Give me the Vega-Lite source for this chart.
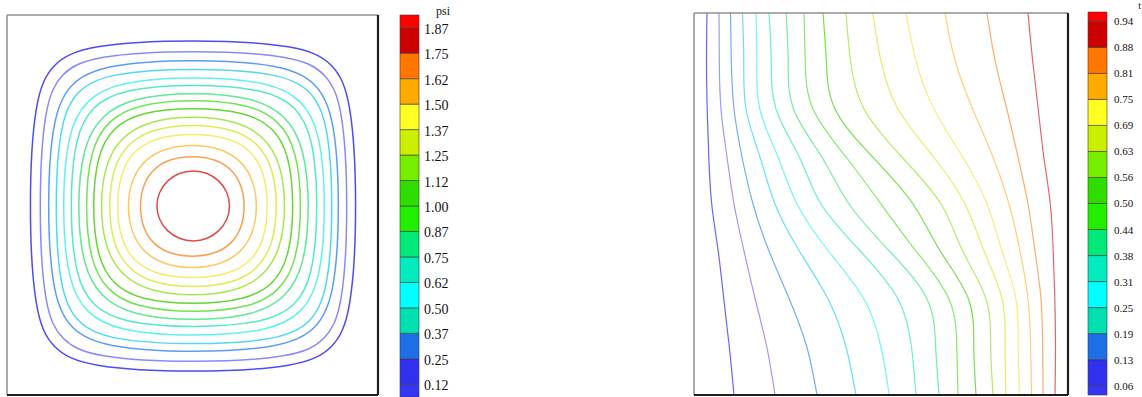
{
"$schema":"https://vega.github.io/schema/vega-lite/v6.json",
"background":"white",
"padding":{"left":5,"top":0,"right":0,"bottom":0},
"config":{"view":{"stroke":null}},
"bounds":"flush",
"spacing":22,
"resolve":{"scale":{"color":"independent","x":"independent","y":"independent"}},
"datasets":{
"psi":[
{"k":1,"o":0,"x":350.5,"y":189},{"k":1,"o":1,"x":344.7,"y":298.1},{"k":1,"o":2,"x":327,"y":332.1},{"k":1,"o":3,"x":293.4,"y":350.2},{"k":1,"o":4,"x":186,"y":356},{"k":1,"o":5,"x":78.6,"y":350.2},{"k":1,"o":6,"x":45,"y":332.1},{"k":1,"o":7,"x":27.3,"y":298.1},{"k":1,"o":8,"x":21.5,"y":189},{"k":1,"o":9,"x":27.3,"y":79.9},{"k":1,"o":10,"x":45,"y":45.9},{"k":1,"o":11,"x":78.6,"y":27.8},{"k":1,"o":12,"x":186,"y":22},{"k":1,"o":13,"x":293.4,"y":27.8},{"k":1,"o":14,"x":327,"y":45.9},{"k":1,"o":15,"x":344.7,"y":79.9},
{"k":2,"o":0,"x":341.5,"y":188.5},{"k":2,"o":1,"x":336.1,"y":290.8},{"k":2,"o":2,"x":319.3,"y":322.8},{"k":2,"o":3,"x":287.7,"y":339.7},{"k":2,"o":4,"x":186.5,"y":345.2},{"k":2,"o":5,"x":85.3,"y":339.7},{"k":2,"o":6,"x":53.7,"y":322.8},{"k":2,"o":7,"x":36.9,"y":290.8},{"k":2,"o":8,"x":31.5,"y":188.5},{"k":2,"o":9,"x":36.9,"y":86.2},{"k":2,"o":10,"x":53.7,"y":54.2},{"k":2,"o":11,"x":85.3,"y":37.3},{"k":2,"o":12,"x":186.5,"y":31.8},{"k":2,"o":13,"x":287.7,"y":37.3},{"k":2,"o":14,"x":319.3,"y":54.2},{"k":2,"o":15,"x":336.1,"y":86.2},
{"k":3,"o":0,"x":333.2,"y":189},{"k":3,"o":1,"x":327.5,"y":280.1},{"k":3,"o":2,"x":309.9,"y":312.8},{"k":3,"o":3,"x":277.3,"y":330.5},{"k":3,"o":4,"x":186.5,"y":336.2},{"k":3,"o":5,"x":95.7,"y":330.5},{"k":3,"o":6,"x":63.1,"y":312.8},{"k":3,"o":7,"x":45.5,"y":280.1},{"k":3,"o":8,"x":39.8,"y":189},{"k":3,"o":9,"x":45.5,"y":97.9},{"k":3,"o":10,"x":63.1,"y":65.2},{"k":3,"o":11,"x":95.7,"y":47.5},{"k":3,"o":12,"x":186.5,"y":41.8},{"k":3,"o":13,"x":277.3,"y":47.5},{"k":3,"o":14,"x":309.9,"y":65.2},{"k":3,"o":15,"x":327.5,"y":97.9},
{"k":4,"o":0,"x":326.5,"y":188.5},{"k":4,"o":1,"x":321.1,"y":274.5},{"k":4,"o":2,"x":304.3,"y":305.3},{"k":4,"o":3,"x":273.4,"y":322},{"k":4,"o":4,"x":187,"y":327.4},{"k":4,"o":5,"x":100.6,"y":322},{"k":4,"o":6,"x":69.7,"y":305.3},{"k":4,"o":7,"x":52.9,"y":274.5},{"k":4,"o":8,"x":47.5,"y":188.5},{"k":4,"o":9,"x":52.9,"y":102.5},{"k":4,"o":10,"x":69.7,"y":71.7},{"k":4,"o":11,"x":100.6,"y":55},{"k":4,"o":12,"x":187,"y":49.6},{"k":4,"o":13,"x":273.4,"y":55},{"k":4,"o":14,"x":304.3,"y":71.7},{"k":4,"o":15,"x":321.1,"y":102.5},
{"k":5,"o":0,"x":319.2,"y":188.5},{"k":5,"o":1,"x":313.4,"y":263.9},{"k":5,"o":2,"x":295.4,"y":295.4},{"k":5,"o":3,"x":263.4,"y":313.2},{"k":5,"o":4,"x":187,"y":318.9},{"k":5,"o":5,"x":110.6,"y":313.2},{"k":5,"o":6,"x":78.6,"y":295.4},{"k":5,"o":7,"x":60.6,"y":263.9},{"k":5,"o":8,"x":54.8,"y":188.5},{"k":5,"o":9,"x":60.6,"y":113.1},{"k":5,"o":10,"x":78.6,"y":81.6},{"k":5,"o":11,"x":110.6,"y":63.8},{"k":5,"o":12,"x":187,"y":58.1},{"k":5,"o":13,"x":263.4,"y":63.8},{"k":5,"o":14,"x":295.4,"y":81.6},{"k":5,"o":15,"x":313.4,"y":113.1},
{"k":6,"o":0,"x":311.5,"y":189},{"k":6,"o":1,"x":306,"y":259.6},{"k":6,"o":2,"x":289.1,"y":289.2},{"k":6,"o":3,"x":259,"y":305.8},{"k":6,"o":4,"x":187,"y":311.2},{"k":6,"o":5,"x":115,"y":305.8},{"k":6,"o":6,"x":84.9,"y":289.2},{"k":6,"o":7,"x":68,"y":259.6},{"k":6,"o":8,"x":62.5,"y":189},{"k":6,"o":9,"x":68,"y":118.4},{"k":6,"o":10,"x":84.9,"y":88.8},{"k":6,"o":11,"x":115,"y":72.2},{"k":6,"o":12,"x":187,"y":66.8},{"k":6,"o":13,"x":259,"y":72.2},{"k":6,"o":14,"x":289.1,"y":88.8},{"k":6,"o":15,"x":306,"y":118.4},
{"k":7,"o":0,"x":303.2,"y":188.5},{"k":7,"o":1,"x":297.2,"y":249},{"k":7,"o":2,"x":279.2,"y":279.7},{"k":7,"o":3,"x":248,"y":297.4},{"k":7,"o":4,"x":186.5,"y":303.3},{"k":7,"o":5,"x":125,"y":297.4},{"k":7,"o":6,"x":93.8,"y":279.7},{"k":7,"o":7,"x":75.8,"y":249},{"k":7,"o":8,"x":69.8,"y":188.5},{"k":7,"o":9,"x":75.8,"y":128},{"k":7,"o":10,"x":93.8,"y":97.3},{"k":7,"o":11,"x":125,"y":79.6},{"k":7,"o":12,"x":186.5,"y":73.7},{"k":7,"o":13,"x":248,"y":79.6},{"k":7,"o":14,"x":279.2,"y":97.3},{"k":7,"o":15,"x":297.2,"y":128},
{"k":8,"o":0,"x":295.2,"y":189},{"k":8,"o":1,"x":289.7,"y":245.5},{"k":8,"o":2,"x":272.8,"y":274.1},{"k":8,"o":3,"x":243.8,"y":290.7},{"k":8,"o":4,"x":186.5,"y":296.2},{"k":8,"o":5,"x":129.2,"y":290.7},{"k":8,"o":6,"x":100.2,"y":274.1},{"k":8,"o":7,"x":83.3,"y":245.5},{"k":8,"o":8,"x":77.8,"y":189},{"k":8,"o":9,"x":83.3,"y":132.5},{"k":8,"o":10,"x":100.2,"y":103.9},{"k":8,"o":11,"x":129.2,"y":87.3},{"k":8,"o":12,"x":186.5,"y":81.8},{"k":8,"o":13,"x":243.8,"y":87.3},{"k":8,"o":14,"x":272.8,"y":103.9},{"k":8,"o":15,"x":289.7,"y":132.5},
{"k":9,"o":0,"x":287.4,"y":189},{"k":9,"o":1,"x":282.2,"y":241.2},{"k":9,"o":2,"x":266.6,"y":267.6},{"k":9,"o":3,"x":239.5,"y":283},{"k":9,"o":4,"x":186.2,"y":288},{"k":9,"o":5,"x":132.9,"y":283},{"k":9,"o":6,"x":105.8,"y":267.6},{"k":9,"o":7,"x":90.2,"y":241.2},{"k":9,"o":8,"x":85,"y":189},{"k":9,"o":9,"x":90.2,"y":136.8},{"k":9,"o":10,"x":105.8,"y":110.4},{"k":9,"o":11,"x":132.9,"y":95},{"k":9,"o":12,"x":186.2,"y":90},{"k":9,"o":13,"x":239.5,"y":95},{"k":9,"o":14,"x":266.6,"y":110.4},{"k":9,"o":15,"x":282.2,"y":136.8},
{"k":10,"o":0,"x":279.3,"y":189},{"k":10,"o":1,"x":273.8,"y":232.3},{"k":10,"o":2,"x":257.5,"y":258.4},{"k":10,"o":3,"x":230.6,"y":274.3},{"k":10,"o":4,"x":186,"y":279.6},{"k":10,"o":5,"x":141.4,"y":274.3},{"k":10,"o":6,"x":114.5,"y":258.4},{"k":10,"o":7,"x":98.2,"y":232.3},{"k":10,"o":8,"x":92.7,"y":189},{"k":10,"o":9,"x":98.2,"y":145.7},{"k":10,"o":10,"x":114.5,"y":119.6},{"k":10,"o":11,"x":141.4,"y":103.7},{"k":10,"o":12,"x":186,"y":98.4},{"k":10,"o":13,"x":230.6,"y":103.7},{"k":10,"o":14,"x":257.5,"y":119.6},{"k":10,"o":15,"x":273.8,"y":145.7},
{"k":11,"o":0,"x":270.9,"y":189},{"k":11,"o":1,"x":265.9,"y":228.3},{"k":11,"o":2,"x":251,"y":252},{"k":11,"o":3,"x":226.6,"y":266.4},{"k":11,"o":4,"x":186,"y":271.2},{"k":11,"o":5,"x":145.4,"y":266.4},{"k":11,"o":6,"x":121,"y":252},{"k":11,"o":7,"x":106.1,"y":228.3},{"k":11,"o":8,"x":101.1,"y":189},{"k":11,"o":9,"x":106.1,"y":149.7},{"k":11,"o":10,"x":121,"y":126},{"k":11,"o":11,"x":145.4,"y":111.6},{"k":11,"o":12,"x":186,"y":106.8},{"k":11,"o":13,"x":226.6,"y":111.6},{"k":11,"o":14,"x":251,"y":126},{"k":11,"o":15,"x":265.9,"y":149.7},
{"k":12,"o":0,"x":261.7,"y":189},{"k":12,"o":1,"x":257.2,"y":223.9},{"k":12,"o":2,"x":243.9,"y":244.9},{"k":12,"o":3,"x":221.9,"y":257.7},{"k":12,"o":4,"x":185.5,"y":262},{"k":12,"o":5,"x":149.1,"y":257.7},{"k":12,"o":6,"x":127.1,"y":244.9},{"k":12,"o":7,"x":113.8,"y":223.9},{"k":12,"o":8,"x":109.3,"y":189},{"k":12,"o":9,"x":113.8,"y":154.1},{"k":12,"o":10,"x":127.1,"y":133.1},{"k":12,"o":11,"x":149.1,"y":120.3},{"k":12,"o":12,"x":185.5,"y":116},{"k":12,"o":13,"x":221.9,"y":120.3},{"k":12,"o":14,"x":243.9,"y":133.1},{"k":12,"o":15,"x":257.2,"y":154.1},
{"k":13,"o":0,"x":250.8,"y":188.5},{"k":13,"o":1,"x":246.4,"y":215.6},{"k":13,"o":2,"x":233.8,"y":234.8},{"k":13,"o":3,"x":213.8,"y":246.8},{"k":13,"o":4,"x":185.4,"y":251},{"k":13,"o":5,"x":157,"y":246.8},{"k":13,"o":6,"x":137,"y":234.8},{"k":13,"o":7,"x":124.4,"y":215.6},{"k":13,"o":8,"x":120,"y":188.5},{"k":13,"o":9,"x":124.4,"y":161.4},{"k":13,"o":10,"x":137,"y":142.2},{"k":13,"o":11,"x":157,"y":130.2},{"k":13,"o":12,"x":185.4,"y":126},{"k":13,"o":13,"x":213.8,"y":130.2},{"k":13,"o":14,"x":233.8,"y":142.2},{"k":13,"o":15,"x":246.4,"y":161.4},
{"k":14,"o":0,"x":238.3,"y":188.6},{"k":14,"o":1,"x":234.7,"y":210.7},{"k":14,"o":2,"x":224.5,"y":226.3},{"k":14,"o":3,"x":208.3,"y":236.1},{"k":14,"o":4,"x":185.3,"y":239.5},{"k":14,"o":5,"x":162.3,"y":236.1},{"k":14,"o":6,"x":146.1,"y":226.3},{"k":14,"o":7,"x":135.9,"y":210.7},{"k":14,"o":8,"x":132.3,"y":188.6},{"k":14,"o":9,"x":135.9,"y":166.5},{"k":14,"o":10,"x":146.1,"y":150.9},{"k":14,"o":11,"x":162.3,"y":141.1},{"k":14,"o":12,"x":185.3,"y":137.7},{"k":14,"o":13,"x":208.3,"y":141.1},{"k":14,"o":14,"x":224.5,"y":150.9},{"k":14,"o":15,"x":234.7,"y":166.5},
{"k":15,"o":0,"x":223.4,"y":189.1},{"k":15,"o":1,"x":220.6,"y":202.8},{"k":15,"o":2,"x":212.5,"y":214.5},{"k":15,"o":3,"x":200.4,"y":222.3},{"k":15,"o":4,"x":186.2,"y":225},{"k":15,"o":5,"x":172,"y":222.3},{"k":15,"o":6,"x":159.9,"y":214.5},{"k":15,"o":7,"x":151.8,"y":202.8},{"k":15,"o":8,"x":149,"y":189.1},{"k":15,"o":9,"x":151.8,"y":175.4},{"k":15,"o":10,"x":159.9,"y":163.7},{"k":15,"o":11,"x":172,"y":155.9},{"k":15,"o":12,"x":186.2,"y":153.2},{"k":15,"o":13,"x":200.4,"y":155.9},{"k":15,"o":14,"x":212.5,"y":163.7},{"k":15,"o":15,"x":220.6,"y":175.4}
],
"temp":[
{"k":1,"y":382,"x":13},{"k":1,"y":334,"x":12.5},{"k":1,"y":286,"x":13.2},{"k":1,"y":238,"x":14.8},{"k":1,"y":191,"x":17.7},{"k":1,"y":144,"x":24.2},{"k":1,"y":96,"x":29.8},{"k":1,"y":48,"x":35.3},{"k":1,"y":0,"x":40},
{"k":2,"y":382,"x":25},{"k":2,"y":334,"x":25.3},{"k":2,"y":286,"x":27},{"k":2,"y":238,"x":33},{"k":2,"y":191,"x":40},{"k":2,"y":144,"x":50},{"k":2,"y":96,"x":61.2},{"k":2,"y":48,"x":72.8},{"k":2,"y":0,"x":81},
{"k":3,"y":382,"x":36.5},{"k":3,"y":334,"x":37.3},{"k":3,"y":286,"x":40},{"k":3,"y":238,"x":48},{"k":3,"y":191,"x":59},{"k":3,"y":144,"x":75},{"k":3,"y":96,"x":95.3},{"k":3,"y":48,"x":112.8},{"k":3,"y":0,"x":123},
{"k":4,"y":382,"x":48.5},{"k":4,"y":334,"x":49.8},{"k":4,"y":286,"x":52},{"k":4,"y":238,"x":66},{"k":4,"y":191,"x":81},{"k":4,"y":144,"x":105.3},{"k":4,"y":96,"x":134},{"k":4,"y":48,"x":152},{"k":4,"y":0,"x":162},
{"k":5,"y":382,"x":62},{"k":5,"y":334,"x":62.8},{"k":5,"y":286,"x":65.8},{"k":5,"y":238,"x":84},{"k":5,"y":191,"x":103},{"k":5,"y":144,"x":134.5},{"k":5,"y":96,"x":170},{"k":5,"y":48,"x":187},{"k":5,"y":0,"x":195.3},
{"k":6,"y":382,"x":75},{"k":6,"y":334,"x":77.3},{"k":6,"y":286,"x":82},{"k":6,"y":238,"x":105.3},{"k":6,"y":191,"x":127},{"k":6,"y":144,"x":166.2},{"k":6,"y":96,"x":204},{"k":6,"y":48,"x":217.5},{"k":6,"y":0,"x":222},
{"k":7,"y":382,"x":92},{"k":7,"y":334,"x":94.2},{"k":7,"y":286,"x":99.5},{"k":7,"y":238,"x":127.8},{"k":7,"y":191,"x":155},{"k":7,"y":144,"x":195.3},{"k":7,"y":96,"x":233},{"k":7,"y":48,"x":241.7},{"k":7,"y":0,"x":245},
{"k":8,"y":382,"x":110},{"k":8,"y":334,"x":111.2},{"k":8,"y":286,"x":119},{"k":8,"y":238,"x":152},{"k":8,"y":191,"x":187},{"k":8,"y":144,"x":222},{"k":8,"y":96,"x":255},{"k":8,"y":48,"x":262.8},{"k":8,"y":0,"x":264},
{"k":9,"y":382,"x":129},{"k":9,"y":334,"x":132.3},{"k":9,"y":286,"x":141},{"k":9,"y":238,"x":178.7},{"k":9,"y":191,"x":219},{"k":9,"y":144,"x":246.2},{"k":9,"y":96,"x":274.5},{"k":9,"y":48,"x":279.8},{"k":9,"y":0,"x":282},
{"k":10,"y":382,"x":152},{"k":10,"y":334,"x":156.5},{"k":10,"y":286,"x":170},{"k":10,"y":238,"x":207.8},{"k":10,"y":191,"x":247},{"k":10,"y":144,"x":268.7},{"k":10,"y":96,"x":292},{"k":10,"y":48,"x":296.7},{"k":10,"y":0,"x":299},
{"k":11,"y":382,"x":178.7},{"k":11,"y":334,"x":187},{"k":11,"y":286,"x":204},{"k":11,"y":238,"x":239.5},{"k":11,"y":191,"x":271},{"k":11,"y":144,"x":290},{"k":11,"y":96,"x":308.2},{"k":11,"y":48,"x":311.2},{"k":11,"y":0,"x":312},
{"k":12,"y":382,"x":212},{"k":12,"y":334,"x":222},{"k":12,"y":286,"x":240},{"k":12,"y":238,"x":268.7},{"k":12,"y":191,"x":293},{"k":12,"y":144,"x":308},{"k":12,"y":96,"x":322},{"k":12,"y":48,"x":324.2},{"k":12,"y":0,"x":325.5},
{"k":13,"y":382,"x":251},{"k":13,"y":334,"x":261.2},{"k":13,"y":286,"x":278.7},{"k":13,"y":238,"x":299},{"k":13,"y":191,"x":315},{"k":13,"y":144,"x":326},{"k":13,"y":96,"x":334},{"k":13,"y":48,"x":336.7},{"k":13,"y":0,"x":337.5},
{"k":14,"y":382,"x":293},{"k":14,"y":334,"x":301.2},{"k":14,"y":286,"x":312.8},{"k":14,"y":238,"x":324},{"k":14,"y":191,"x":334},{"k":14,"y":144,"x":341},{"k":14,"y":96,"x":347},{"k":14,"y":48,"x":348.7},{"k":14,"y":0,"x":349},
{"k":15,"y":382,"x":334},{"k":15,"y":334,"x":338.7},{"k":15,"y":286,"x":344.2},{"k":15,"y":238,"x":349.8},{"k":15,"y":191,"x":356.3},{"k":15,"y":144,"x":359.2},{"k":15,"y":96,"x":360.8},{"k":15,"y":48,"x":361.5},{"k":15,"y":0,"x":361}
],
"cb1":[
{"lo":0.0625,"hi":0.125,"c":0},{"lo":0.125,"hi":0.25,"c":1},{"lo":0.25,"hi":0.375,"c":2},{"lo":0.375,"hi":0.5,"c":3},{"lo":0.5,"hi":0.625,"c":4},{"lo":0.625,"hi":0.75,"c":5},{"lo":0.75,"hi":0.875,"c":6},{"lo":0.875,"hi":1.0,"c":7},{"lo":1.0,"hi":1.125,"c":8},{"lo":1.125,"hi":1.25,"c":9},{"lo":1.25,"hi":1.375,"c":10},{"lo":1.375,"hi":1.5,"c":11},{"lo":1.5,"hi":1.625,"c":12},{"lo":1.625,"hi":1.75,"c":13},{"lo":1.75,"hi":1.875,"c":14},{"lo":1.875,"hi":1.9375,"c":15}
],
"lab1":[
{"v":0.125,"label":"0.12"},{"v":0.25,"label":"0.25"},{"v":0.375,"label":"0.37"},{"v":0.5,"label":"0.50"},{"v":0.625,"label":"0.62"},{"v":0.75,"label":"0.75"},{"v":0.875,"label":"0.87"},{"v":1.0,"label":"1.00"},{"v":1.125,"label":"1.12"},{"v":1.25,"label":"1.25"},{"v":1.375,"label":"1.37"},{"v":1.5,"label":"1.50"},{"v":1.625,"label":"1.62"},{"v":1.75,"label":"1.75"},{"v":1.875,"label":"1.87"}
],
"cb2":[
{"lo":0.04,"hi":0.0625,"c":0},{"lo":0.0625,"hi":0.125,"c":1},{"lo":0.125,"hi":0.1875,"c":2},{"lo":0.1875,"hi":0.25,"c":3},{"lo":0.25,"hi":0.3125,"c":4},{"lo":0.3125,"hi":0.375,"c":5},{"lo":0.375,"hi":0.4375,"c":6},{"lo":0.4375,"hi":0.5,"c":7},{"lo":0.5,"hi":0.5625,"c":8},{"lo":0.5625,"hi":0.625,"c":9},{"lo":0.625,"hi":0.6875,"c":10},{"lo":0.6875,"hi":0.75,"c":11},{"lo":0.75,"hi":0.8125,"c":12},{"lo":0.8125,"hi":0.875,"c":13},{"lo":0.875,"hi":0.9375,"c":14},{"lo":0.9375,"hi":0.96,"c":15}
],
"lab2":[
{"v":0.0625,"label":"0.06"},{"v":0.125,"label":"0.13"},{"v":0.1875,"label":"0.19"},{"v":0.25,"label":"0.25"},{"v":0.3125,"label":"0.31"},{"v":0.375,"label":"0.38"},{"v":0.4375,"label":"0.44"},{"v":0.5,"label":"0.50"},{"v":0.5625,"label":"0.56"},{"v":0.625,"label":"0.63"},{"v":0.6875,"label":"0.69"},{"v":0.75,"label":"0.75"},{"v":0.8125,"label":"0.81"},{"v":0.875,"label":"0.88"},{"v":0.9375,"label":"0.94"}
]
},
"hconcat":[
{
"width":371,"height":395,
"layer":[
{"data":{"name":"psi"},"mark":{"type":"line","interpolate":"basis-closed","strokeWidth":1.5},
"encoding":{
"x":{"field":"x","type":"quantitative","scale":{"domain":[0,371],"nice":false,"zero":false},"axis":null},
"y":{"field":"y","type":"quantitative","scale":{"domain":[0,395],"nice":false,"zero":false},"axis":null},
"color":{"field":"k","type":"ordinal","scale":{"domain":[1,2,3,4,5,6,7,8,9,10,11,12,13,14,15],"range":["#4c4cf2","#8a8af6","#5e9cf4","#4fd8f2","#5ef2ec","#52eac6","#5ee89a","#6ee452","#62d82e","#a6e84e","#dcec52","#f6ea6a","#fcc862","#fc9e50","#e04a4a"]},"legend":null},
"order":{"field":"o","type":"quantitative"}}},
{"data":{"values":[{}]},"mark":{"type":"rule","color":"#8f8f8f","strokeWidth":1.5},
"encoding":{"x":{"datum":0,"type":"quantitative","scale":{"domain":[0,371],"nice":false,"zero":false},"axis":null},"y":{"datum":0,"type":"quantitative","scale":{"domain":[0,395],"nice":false,"zero":false},"axis":null},"y2":{"datum":380}}},
{"data":{"values":[{}]},"mark":{"type":"rule","color":"#8f8f8f","strokeWidth":1.5},
"encoding":{"x":{"datum":0,"type":"quantitative","scale":{"domain":[0,371],"nice":false,"zero":false},"axis":null},"x2":{"datum":371},"y":{"datum":380,"type":"quantitative","scale":{"domain":[0,395],"nice":false,"zero":false},"axis":null}}},
{"data":{"values":[{}]},"mark":{"type":"rule","color":"#1e1e1e","strokeWidth":2.2},
"encoding":{"x":{"datum":371,"type":"quantitative","scale":{"domain":[0,371],"nice":false,"zero":false},"axis":null},"y":{"datum":0,"type":"quantitative","scale":{"domain":[0,395],"nice":false,"zero":false},"axis":null},"y2":{"datum":380}}},
{"data":{"values":[{}]},"mark":{"type":"rule","color":"#1e1e1e","strokeWidth":2.2},
"encoding":{"x":{"datum":0,"type":"quantitative","scale":{"domain":[0,371],"nice":false,"zero":false},"axis":null},"x2":{"datum":371},"y":{"datum":0,"type":"quantitative","scale":{"domain":[0,395],"nice":false,"zero":false},"axis":null}}}
]
},
{
"width":272,"height":397,
"layer":[
{"data":{"name":"cb1"},"mark":{"type":"rect","stroke":"#3a3a3a","strokeWidth":0.6},
"encoding":{
"x":{"datum":0,"type":"quantitative","scale":{"domain":[0,1],"range":[0,19],"nice":false,"zero":false},"axis":null},"x2":{"datum":1},
"y":{"field":"lo","type":"quantitative","scale":{"domain":[0.0625,2.0111],"nice":false,"zero":false},"axis":null},"y2":{"field":"hi"},
"color":{"field":"c","type":"ordinal","scale":{"domain":[0,1,2,3,4,5,6,7,8,9,10,11,12,13,14,15],"range":["#3535f5","#3030ee","#1e6ee6","#00e0b0","#00ffff","#00ecbe","#00e878","#22ee00","#2fdd00","#77ee00","#ccee00","#ffff22","#ffaa00","#ff7700","#cc0000","#ff0000"]},"legend":null}}},
{"data":{"name":"lab1"},"mark":{"type":"text","align":"left","baseline":"middle","dx":5,"dy":2,"font":"Liberation Serif","fontSize":14,"color":"#111111"},
"encoding":{
"x":{"datum":1,"type":"quantitative","scale":{"domain":[0,1],"range":[0,19],"nice":false,"zero":false},"axis":null},
"y":{"field":"v","type":"quantitative","scale":{"domain":[0.0625,2.0111],"nice":false,"zero":false},"axis":null},
"text":{"field":"label"}}},
{"data":{"values":[{"name":"psi"}]},"mark":{"type":"text","align":"right","baseline":"alphabetic","dx":31,"dy":0,"font":"Liberation Serif","fontSize":12,"color":"#111111"},
"encoding":{
"x":{"datum":1,"type":"quantitative","scale":{"domain":[0,1],"range":[0,19],"nice":false,"zero":false},"axis":null},
"y":{"datum":1.9375,"type":"quantitative","scale":{"domain":[0.0625,2.0111],"nice":false,"zero":false},"axis":null},
"text":{"field":"name"}}}
]
},
{
"width":374,"height":395,
"layer":[
{"data":{"name":"temp"},"mark":{"type":"line","interpolate":"natural","strokeWidth":1.2,"opacity":0.85},
"encoding":{
"x":{"field":"x","type":"quantitative","scale":{"domain":[0,374],"nice":false,"zero":false},"axis":null},
"y":{"field":"y","type":"quantitative","scale":{"domain":[0,395],"nice":false,"zero":false},"axis":null},
"color":{"field":"k","type":"ordinal","scale":{"domain":[1,2,3,4,5,6,7,8,9,10,11,12,13,14,15],"range":["#4c4cf2","#8a8af6","#5e9cf4","#4fd8f2","#5ef2ec","#52eac6","#5ee89a","#6ee452","#62d82e","#a6e84e","#dcec52","#f6ea6a","#fcc862","#fc9e50","#e04a4a"]},"legend":null},
"order":{"field":"y","type":"quantitative"}}},
{"data":{"values":[{}]},"mark":{"type":"rule","color":"#8f8f8f","strokeWidth":1.5},
"encoding":{"x":{"datum":0,"type":"quantitative","scale":{"domain":[0,374],"nice":false,"zero":false},"axis":null},"y":{"datum":0,"type":"quantitative","scale":{"domain":[0,395],"nice":false,"zero":false},"axis":null},"y2":{"datum":382}}},
{"data":{"values":[{}]},"mark":{"type":"rule","color":"#8f8f8f","strokeWidth":1.5},
"encoding":{"x":{"datum":0,"type":"quantitative","scale":{"domain":[0,374],"nice":false,"zero":false},"axis":null},"x2":{"datum":374},"y":{"datum":382,"type":"quantitative","scale":{"domain":[0,395],"nice":false,"zero":false},"axis":null}}},
{"data":{"values":[{}]},"mark":{"type":"rule","color":"#1e1e1e","strokeWidth":2.2},
"encoding":{"x":{"datum":374,"type":"quantitative","scale":{"domain":[0,374],"nice":false,"zero":false},"axis":null},"y":{"datum":0,"type":"quantitative","scale":{"domain":[0,395],"nice":false,"zero":false},"axis":null},"y2":{"datum":382}}},
{"data":{"values":[{}]},"mark":{"type":"rule","color":"#1e1e1e","strokeWidth":2.2},
"encoding":{"x":{"datum":0,"type":"quantitative","scale":{"domain":[0,374],"nice":false,"zero":false},"axis":null},"x2":{"datum":374},"y":{"datum":0,"type":"quantitative","scale":{"domain":[0,395],"nice":false,"zero":false},"axis":null}}}
]
},
{
"width":19,"height":395,
"layer":[
{"data":{"name":"cb2"},"mark":{"type":"rect","stroke":"#3a3a3a","strokeWidth":0.6},
"encoding":{
"x":{"datum":0,"type":"quantitative","scale":{"domain":[0,1],"range":[-2,17],"nice":false,"zero":false},"axis":null},"x2":{"datum":1},
"y":{"field":"lo","type":"quantitative","scale":{"domain":[0.04,0.9888],"nice":false,"zero":false},"axis":null},"y2":{"field":"hi"},
"color":{"field":"c","type":"ordinal","scale":{"domain":[0,1,2,3,4,5,6,7,8,9,10,11,12,13,14,15],"range":["#3535f5","#3030ee","#1e6ee6","#00e0b0","#00ffff","#00ecbe","#00e878","#22ee00","#2fdd00","#77ee00","#ccee00","#ffff22","#ffaa00","#ff7700","#cc0000","#ff0000"]},"legend":null}}},
{"data":{"name":"lab2"},"mark":{"type":"text","align":"left","baseline":"middle","dx":7,"dy":1,"font":"Liberation Serif","fontSize":11,"color":"#111111"},
"encoding":{
"x":{"datum":1,"type":"quantitative","scale":{"domain":[0,1],"range":[-2,17],"nice":false,"zero":false},"axis":null},
"y":{"field":"v","type":"quantitative","scale":{"domain":[0.04,0.9888],"nice":false,"zero":false},"axis":null},
"text":{"field":"label"}}},
{"data":{"values":[{"name":"t"}]},"mark":{"type":"text","align":"right","baseline":"alphabetic","dx":34,"dy":-3,"font":"Liberation Serif","fontSize":10,"color":"#111111"},
"encoding":{
"x":{"datum":1,"type":"quantitative","scale":{"domain":[0,1],"range":[-2,17],"nice":false,"zero":false},"axis":null},
"y":{"datum":0.96,"type":"quantitative","scale":{"domain":[0.04,0.9888],"nice":false,"zero":false},"axis":null},
"text":{"field":"name"}}}
]
}
]
}
